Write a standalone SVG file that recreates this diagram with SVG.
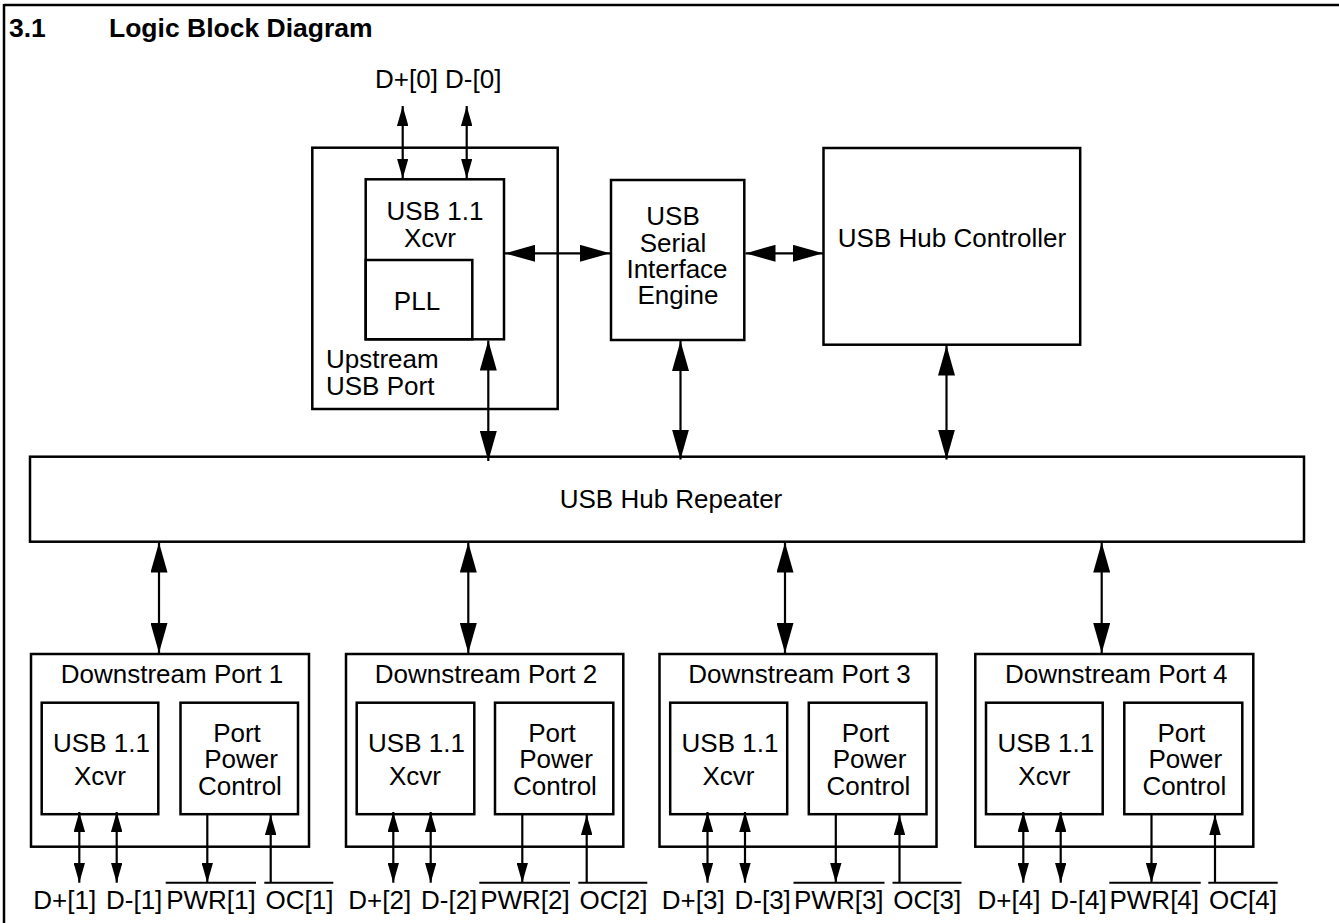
<svg xmlns="http://www.w3.org/2000/svg" width="1339" height="923" viewBox="0 0 1339 923">
<style>
  .box { fill: none; stroke: #000; stroke-width: 2.5; }
  .ln { fill: none; stroke: #000; stroke-width: 2.2; }
  .ol { fill: none; stroke: #000; stroke-width: 2; }
  text { font-family: "Liberation Sans", Arial, Helvetica, sans-serif; font-size: 26px; fill: #000; }
  .c { text-anchor: middle; }
  .title { font-weight: bold; font-size: 26.5px; }
</style>
<defs>
  <marker id="big" viewBox="0 0 30 17" refX="30" refY="8.5" markerWidth="30" markerHeight="17" markerUnits="userSpaceOnUse" orient="auto-start-reverse">
    <path d="M0,0 L30,8.5 L0,17 z" fill="#000"/>
  </marker>
  <marker id="sm" viewBox="0 0 20 11.5" refX="20" refY="5.75" markerWidth="20" markerHeight="11.5" markerUnits="userSpaceOnUse" orient="auto-start-reverse">
    <path d="M0,0 L20,5.75 L0,11.5 z" fill="#000"/>
  </marker>
</defs>
<rect width="1339" height="923" fill="#fff"/>

<g id="frame">
  <line class="box" x1="4" y1="5" x2="1339" y2="5"/>
  <line class="box" x1="4" y1="4" x2="4" y2="923"/>
  <text class="title" x="9" y="37">3.1</text>
  <text class="title" x="109" y="37">Logic Block Diagram</text>
</g>

<g id="upstream">
  <rect class="box" x="312.3" y="147.7" width="245.4" height="261.3"/>
  <text x="326" y="367.7">Upstream</text>
  <text x="326" y="395">USB Port</text>
  <text x="375" y="87.5">D+[0] D-[0]</text>
</g>
<g id="up-xcvr">
  <rect class="box" x="365.7" y="179.3" width="138.3" height="160"/>
  <text class="c" x="435" y="220">USB 1.1</text>
  <text class="c" x="430" y="246.7">Xcvr</text>
</g>
<g id="pll">
  <rect class="box" x="365.7" y="260" width="106.6" height="79.3"/>
  <text class="c" x="417" y="310">PLL</text>
</g>
<g id="sie">
  <rect class="box" x="611" y="180" width="133.3" height="160"/>
  <text class="c" x="673" y="225">USB</text>
  <text class="c" x="673" y="251.7">Serial</text>
  <text class="c" x="677" y="278.3">Interface</text>
  <text class="c" x="678" y="304">Engine</text>
</g>
<g id="hubctrl">
  <rect class="box" x="823.5" y="148" width="256.7" height="196.7"/>
  <text class="c" x="952" y="247">USB Hub Controller</text>
</g>
<g id="repeater">
  <rect class="box" x="30" y="456.7" width="1274" height="85"/>
  <text class="c" x="671" y="507.7">USB Hub Repeater</text>
</g>

<g id="port1" transform="translate(31,0)">
  <rect class="box" x="0" y="654" width="278" height="192.7"/>
  <text class="c" x="141" y="683.3">Downstream Port 1</text>
  <rect class="box" x="10.7" y="702.7" width="116.6" height="111.5"/>
  <text class="c" x="70.5" y="751.7">USB 1.1</text>
  <text class="c" x="69" y="785">Xcvr</text>
  <rect class="box" x="149.5" y="702.7" width="117.5" height="111.5"/>
  <text class="c" x="206" y="741.7">Port</text>
  <text class="c" x="210" y="768.3">Power</text>
  <text class="c" x="209" y="795">Control</text>
  <text x="2.3" y="909">D+[1]</text>
  <text x="75" y="909">D-[1]</text>
  <text x="135.2" y="909">PWR[1]</text>
  <text x="234.5" y="909">OC[1]</text>
</g>
<g id="port2" transform="translate(346,0)">
  <rect class="box" x="0" y="654" width="277.3" height="192.7"/>
  <text class="c" x="140" y="683.3">Downstream Port 2</text>
  <rect class="box" x="10.7" y="702.7" width="117.6" height="111.5"/>
  <text class="c" x="70.5" y="751.7">USB 1.1</text>
  <text class="c" x="69" y="785">Xcvr</text>
  <rect class="box" x="149" y="702.7" width="118.3" height="111.5"/>
  <text class="c" x="206" y="741.7">Port</text>
  <text class="c" x="210" y="768.3">Power</text>
  <text class="c" x="209" y="795">Control</text>
  <text x="2.3" y="909">D+[2]</text>
  <text x="75" y="909">D-[2]</text>
  <text x="134.2" y="909">PWR[2]</text>
  <text x="233.5" y="909">OC[2]</text>
</g>
<g id="port3" transform="translate(659.5,0)">
  <rect class="box" x="0" y="654" width="277" height="192.7"/>
  <text class="c" x="140" y="683.3">Downstream Port 3</text>
  <rect class="box" x="10.7" y="702.7" width="117" height="111.5"/>
  <text class="c" x="70.5" y="751.7">USB 1.1</text>
  <text class="c" x="69" y="785">Xcvr</text>
  <rect class="box" x="149.3" y="702.7" width="117.7" height="111.5"/>
  <text class="c" x="206" y="741.7">Port</text>
  <text class="c" x="210" y="768.3">Power</text>
  <text class="c" x="209" y="795">Control</text>
  <text x="2.3" y="909">D+[3]</text>
  <text x="75" y="909">D-[3]</text>
  <text x="134.5" y="909">PWR[3]</text>
  <text x="233.8" y="909">OC[3]</text>
</g>
<g id="port4" transform="translate(975.3,0)">
  <rect class="box" x="0" y="654" width="278" height="192.7"/>
  <text class="c" x="141" y="683.3">Downstream Port 4</text>
  <rect class="box" x="10.7" y="702.7" width="116.7" height="111.5"/>
  <text class="c" x="70.5" y="751.7">USB 1.1</text>
  <text class="c" x="69" y="785">Xcvr</text>
  <rect class="box" x="149" y="702.7" width="118" height="111.5"/>
  <text class="c" x="206" y="741.7">Port</text>
  <text class="c" x="210" y="768.3">Power</text>
  <text class="c" x="209" y="795">Control</text>
  <text x="2.3" y="909">D+[4]</text>
  <text x="75" y="909">D-[4]</text>
  <text x="134.2" y="909">PWR[4]</text>
  <text x="233.8" y="909">OC[4]</text>
</g>

<g id="connectors">
  <line class="ln" x1="402.7" y1="106" x2="402.7" y2="178.5" marker-start="url(#sm)" marker-end="url(#sm)"/>
  <line class="ln" x1="466.7" y1="106" x2="466.7" y2="178.5" marker-start="url(#sm)" marker-end="url(#sm)"/>
  <line class="ln" x1="505" y1="253.3" x2="610" y2="253.3" marker-start="url(#big)" marker-end="url(#big)"/>
  <line class="ln" x1="745.5" y1="253.3" x2="823" y2="253.3" marker-start="url(#big)" marker-end="url(#big)"/>
  <line class="ln" x1="488.3" y1="340.5" x2="488.3" y2="461" marker-start="url(#big)" marker-end="url(#big)"/>
  <line class="ln" x1="680.5" y1="341" x2="680.5" y2="459.5" marker-start="url(#big)" marker-end="url(#big)"/>
  <line class="ln" x1="946.5" y1="345.5" x2="946.5" y2="459.5" marker-start="url(#big)" marker-end="url(#big)"/>
  <line class="ln" x1="159" y1="542.5" x2="159" y2="653" marker-start="url(#big)" marker-end="url(#big)"/>
  <line class="ln" x1="468.3" y1="542.5" x2="468.3" y2="653" marker-start="url(#big)" marker-end="url(#big)"/>
  <line class="ln" x1="785" y1="542.5" x2="785" y2="653" marker-start="url(#big)" marker-end="url(#big)"/>
  <line class="ln" x1="1101.7" y1="542.5" x2="1101.7" y2="653" marker-start="url(#big)" marker-end="url(#big)"/>
  <line class="ln" x1="79.3" y1="812" x2="79.3" y2="882.7" marker-start="url(#sm)" marker-end="url(#sm)"/>
  <line class="ln" x1="116.7" y1="812" x2="116.7" y2="882.7" marker-start="url(#sm)" marker-end="url(#sm)"/>
  <line class="ln" x1="207.3" y1="815" x2="207.3" y2="882.7" marker-end="url(#sm)"/>
  <line class="ln" x1="270.7" y1="882.7" x2="270.7" y2="815" marker-end="url(#sm)"/>
  <line class="ol" x1="165.7" y1="882.7" x2="256" y2="882.7"/>
  <line class="ol" x1="264.3" y1="882.7" x2="333.3" y2="882.7"/>
  <line class="ln" x1="393.3" y1="812" x2="393.3" y2="882.7" marker-start="url(#sm)" marker-end="url(#sm)"/>
  <line class="ln" x1="430.7" y1="812" x2="430.7" y2="882.7" marker-start="url(#sm)" marker-end="url(#sm)"/>
  <line class="ln" x1="522.3" y1="815" x2="522.3" y2="882.7" marker-end="url(#sm)"/>
  <line class="ln" x1="586.7" y1="882.7" x2="586.7" y2="815" marker-end="url(#sm)"/>
  <line class="ol" x1="479.3" y1="882.7" x2="570" y2="882.7"/>
  <line class="ol" x1="578.3" y1="882.7" x2="647.3" y2="882.7"/>
  <line class="ln" x1="707.5" y1="812" x2="707.5" y2="882.7" marker-start="url(#sm)" marker-end="url(#sm)"/>
  <line class="ln" x1="745" y1="812" x2="745" y2="882.7" marker-start="url(#sm)" marker-end="url(#sm)"/>
  <line class="ln" x1="835.8" y1="815" x2="835.8" y2="882.7" marker-end="url(#sm)"/>
  <line class="ln" x1="899.5" y1="882.7" x2="899.5" y2="815" marker-end="url(#sm)"/>
  <line class="ol" x1="793.5" y1="882.7" x2="884.5" y2="882.7"/>
  <line class="ol" x1="892.5" y1="882.7" x2="961.5" y2="882.7"/>
  <line class="ln" x1="1023.3" y1="812" x2="1023.3" y2="882.7" marker-start="url(#sm)" marker-end="url(#sm)"/>
  <line class="ln" x1="1060.7" y1="812" x2="1060.7" y2="882.7" marker-start="url(#sm)" marker-end="url(#sm)"/>
  <line class="ln" x1="1151.5" y1="815" x2="1151.5" y2="882.7" marker-end="url(#sm)"/>
  <line class="ln" x1="1215" y1="882.7" x2="1215" y2="815" marker-end="url(#sm)"/>
  <line class="ol" x1="1109.3" y1="882.7" x2="1200.7" y2="882.7"/>
  <line class="ol" x1="1208.3" y1="882.7" x2="1277.7" y2="882.7"/>
</g>
</svg>
